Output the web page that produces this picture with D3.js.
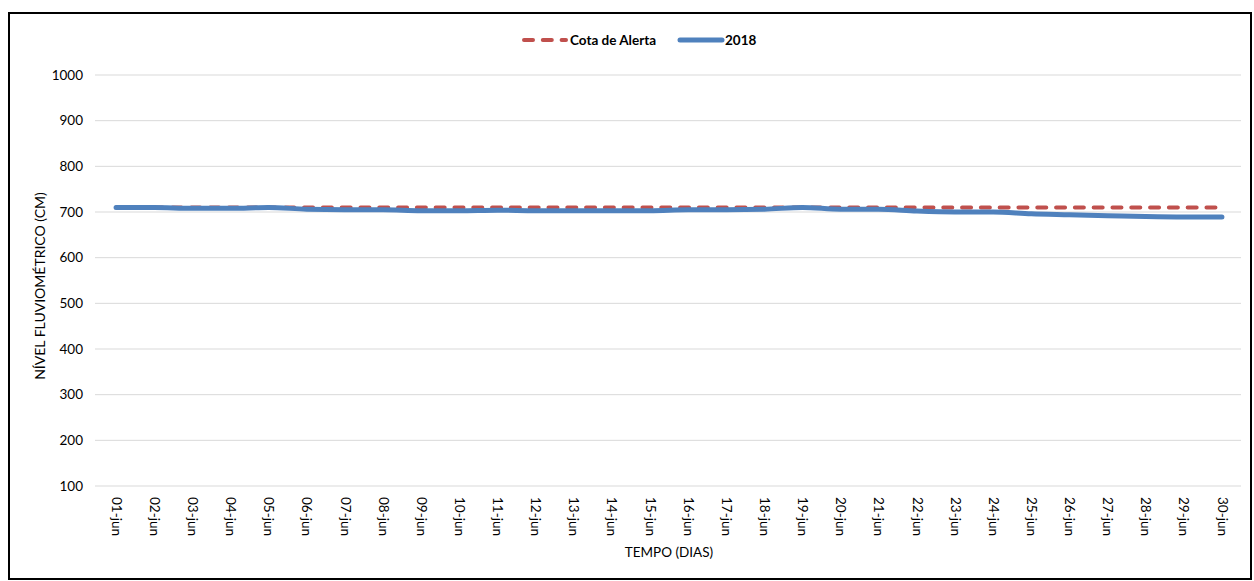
<!DOCTYPE html>
<html>
<head>
<meta charset="utf-8">
<script src="https://cdn.jsdelivr.net/npm/d3@7"></script>
<style>
  html, body { margin: 0; padding: 0; background: #fff; }
  svg { display: block; font-family: Lato, "Open Sans", sans-serif; }
</style>
</head>
<body>
<svg id="chart" width="1254" height="581"></svg>
<script>
const days = ["01-jun","02-jun","03-jun","04-jun","05-jun","06-jun","07-jun","08-jun","09-jun","10-jun",
              "11-jun","12-jun","13-jun","14-jun","15-jun","16-jun","17-jun","18-jun","19-jun","20-jun",
              "21-jun","22-jun","23-jun","24-jun","25-jun","26-jun","27-jun","28-jun","29-jun","30-jun"];
const cotaAlerta = [710,710,710,710,710,710,710,710,710,710,710,710,710,710,710,710,710,710,710,710,710,710,710,710,710,710,710,710,710,710];
const nivel2018 = [710,710,708,708,710,706,705,705,703,703,704,703,703,703,703,705,705,706,710,706,706,702,700,700,696,694,692,690,689,689];
const yTicks = [100,200,300,400,500,600,700,800,900,1000];

const svg = d3.select("#chart");
const FS = 13.5;

// frame
svg.append("rect").attr("x", 9).attr("y", 13).attr("width", 1242).attr("height", 566)
  .attr("fill", "#fff").attr("stroke", "#000").attr("stroke-width", 2);

const x = d3.scaleBand().domain(days).range([97, 1241]);
const y = d3.scaleLinear().domain([100, 1000]).range([486, 75]);

// gridlines
svg.append("g").selectAll("line").data(yTicks).join("line")
  .attr("x1", 95).attr("x2", 1241)
  .attr("y1", d => y(d)).attr("y2", d => y(d))
  .attr("stroke", "#d9d9d9").attr("stroke-width", 1);

// y axis
const yAxis = svg.append("g").attr("transform", "translate(95,0)")
  .call(d3.axisLeft(y).tickValues(yTicks).tickFormat(d3.format("d")).tickSize(0).tickPadding(12));
yAxis.select(".domain").remove();
yAxis.selectAll("text").attr("font-size", FS).attr("fill", "#000")
  .attr("font-family", "Lato, 'Open Sans', sans-serif");

// x axis
const xAxis = svg.append("g").attr("transform", "translate(0,486)")
  .call(d3.axisBottom(x).tickSize(0));
xAxis.select(".domain").remove();
xAxis.selectAll("text")
  .attr("font-size", FS).attr("fill", "#000")
  .attr("font-family", "Lato, 'Open Sans', sans-serif")
  .attr("transform", "rotate(90)")
  .attr("text-anchor", "start")
  .attr("dy", "0.32em")
  .attr("x", 11).attr("y", 0);

// axis titles
svg.append("text").attr("x", 669).attr("y", 557).attr("text-anchor", "middle")
  .attr("font-size", FS).attr("fill", "#000").text("TEMPO (DIAS)");
svg.append("text").attr("transform", "translate(45,286) rotate(-90)")
  .attr("text-anchor", "middle").attr("font-size", 14).attr("fill", "#000")
  .text("NÍVEL FLUVIOMÉTRICO (CM)");

const cx = d => x(d) + x.bandwidth() / 2;

// alert line
const lineAlert = d3.line().x((d, i) => cx(days[i])).y(d => y(d));
svg.append("path").datum(cotaAlerta)
  .attr("d", lineAlert)
  .attr("fill", "none").attr("stroke", "#C0504D").attr("stroke-width", 4)
  .attr("stroke-dasharray", "9,9.8").attr("stroke-linecap", "round");

// 2018 line
const line2018 = d3.line().x((d, i) => cx(days[i])).y(d => y(d)).curve(d3.curveMonotoneX);
svg.append("path").datum(nivel2018)
  .attr("d", line2018)
  .attr("fill", "none").attr("stroke", "#4F81BD").attr("stroke-width", 5)
  .attr("stroke-linecap", "round").attr("stroke-linejoin", "round");

// legend
const leg = svg.append("g");
leg.append("line").attr("x1", 524).attr("x2", 566).attr("y1", 40).attr("y2", 40)
  .attr("stroke", "#C0504D").attr("stroke-width", 4).attr("stroke-dasharray", "9,9.8")
  .attr("stroke-linecap", "round");
leg.append("text").attr("x", 570).attr("y", 45).attr("font-size", FS)
  .attr("font-weight", "bold").attr("fill", "#000").text("Cota de Alerta");
leg.append("line").attr("x1", 680).attr("x2", 722).attr("y1", 40).attr("y2", 40)
  .attr("stroke", "#4F81BD").attr("stroke-width", 5).attr("stroke-linecap", "round");
leg.append("text").attr("x", 725).attr("y", 45).attr("font-size", FS)
  .attr("font-weight", "bold").attr("fill", "#000").text("2018");
</script>
</body>
</html>
